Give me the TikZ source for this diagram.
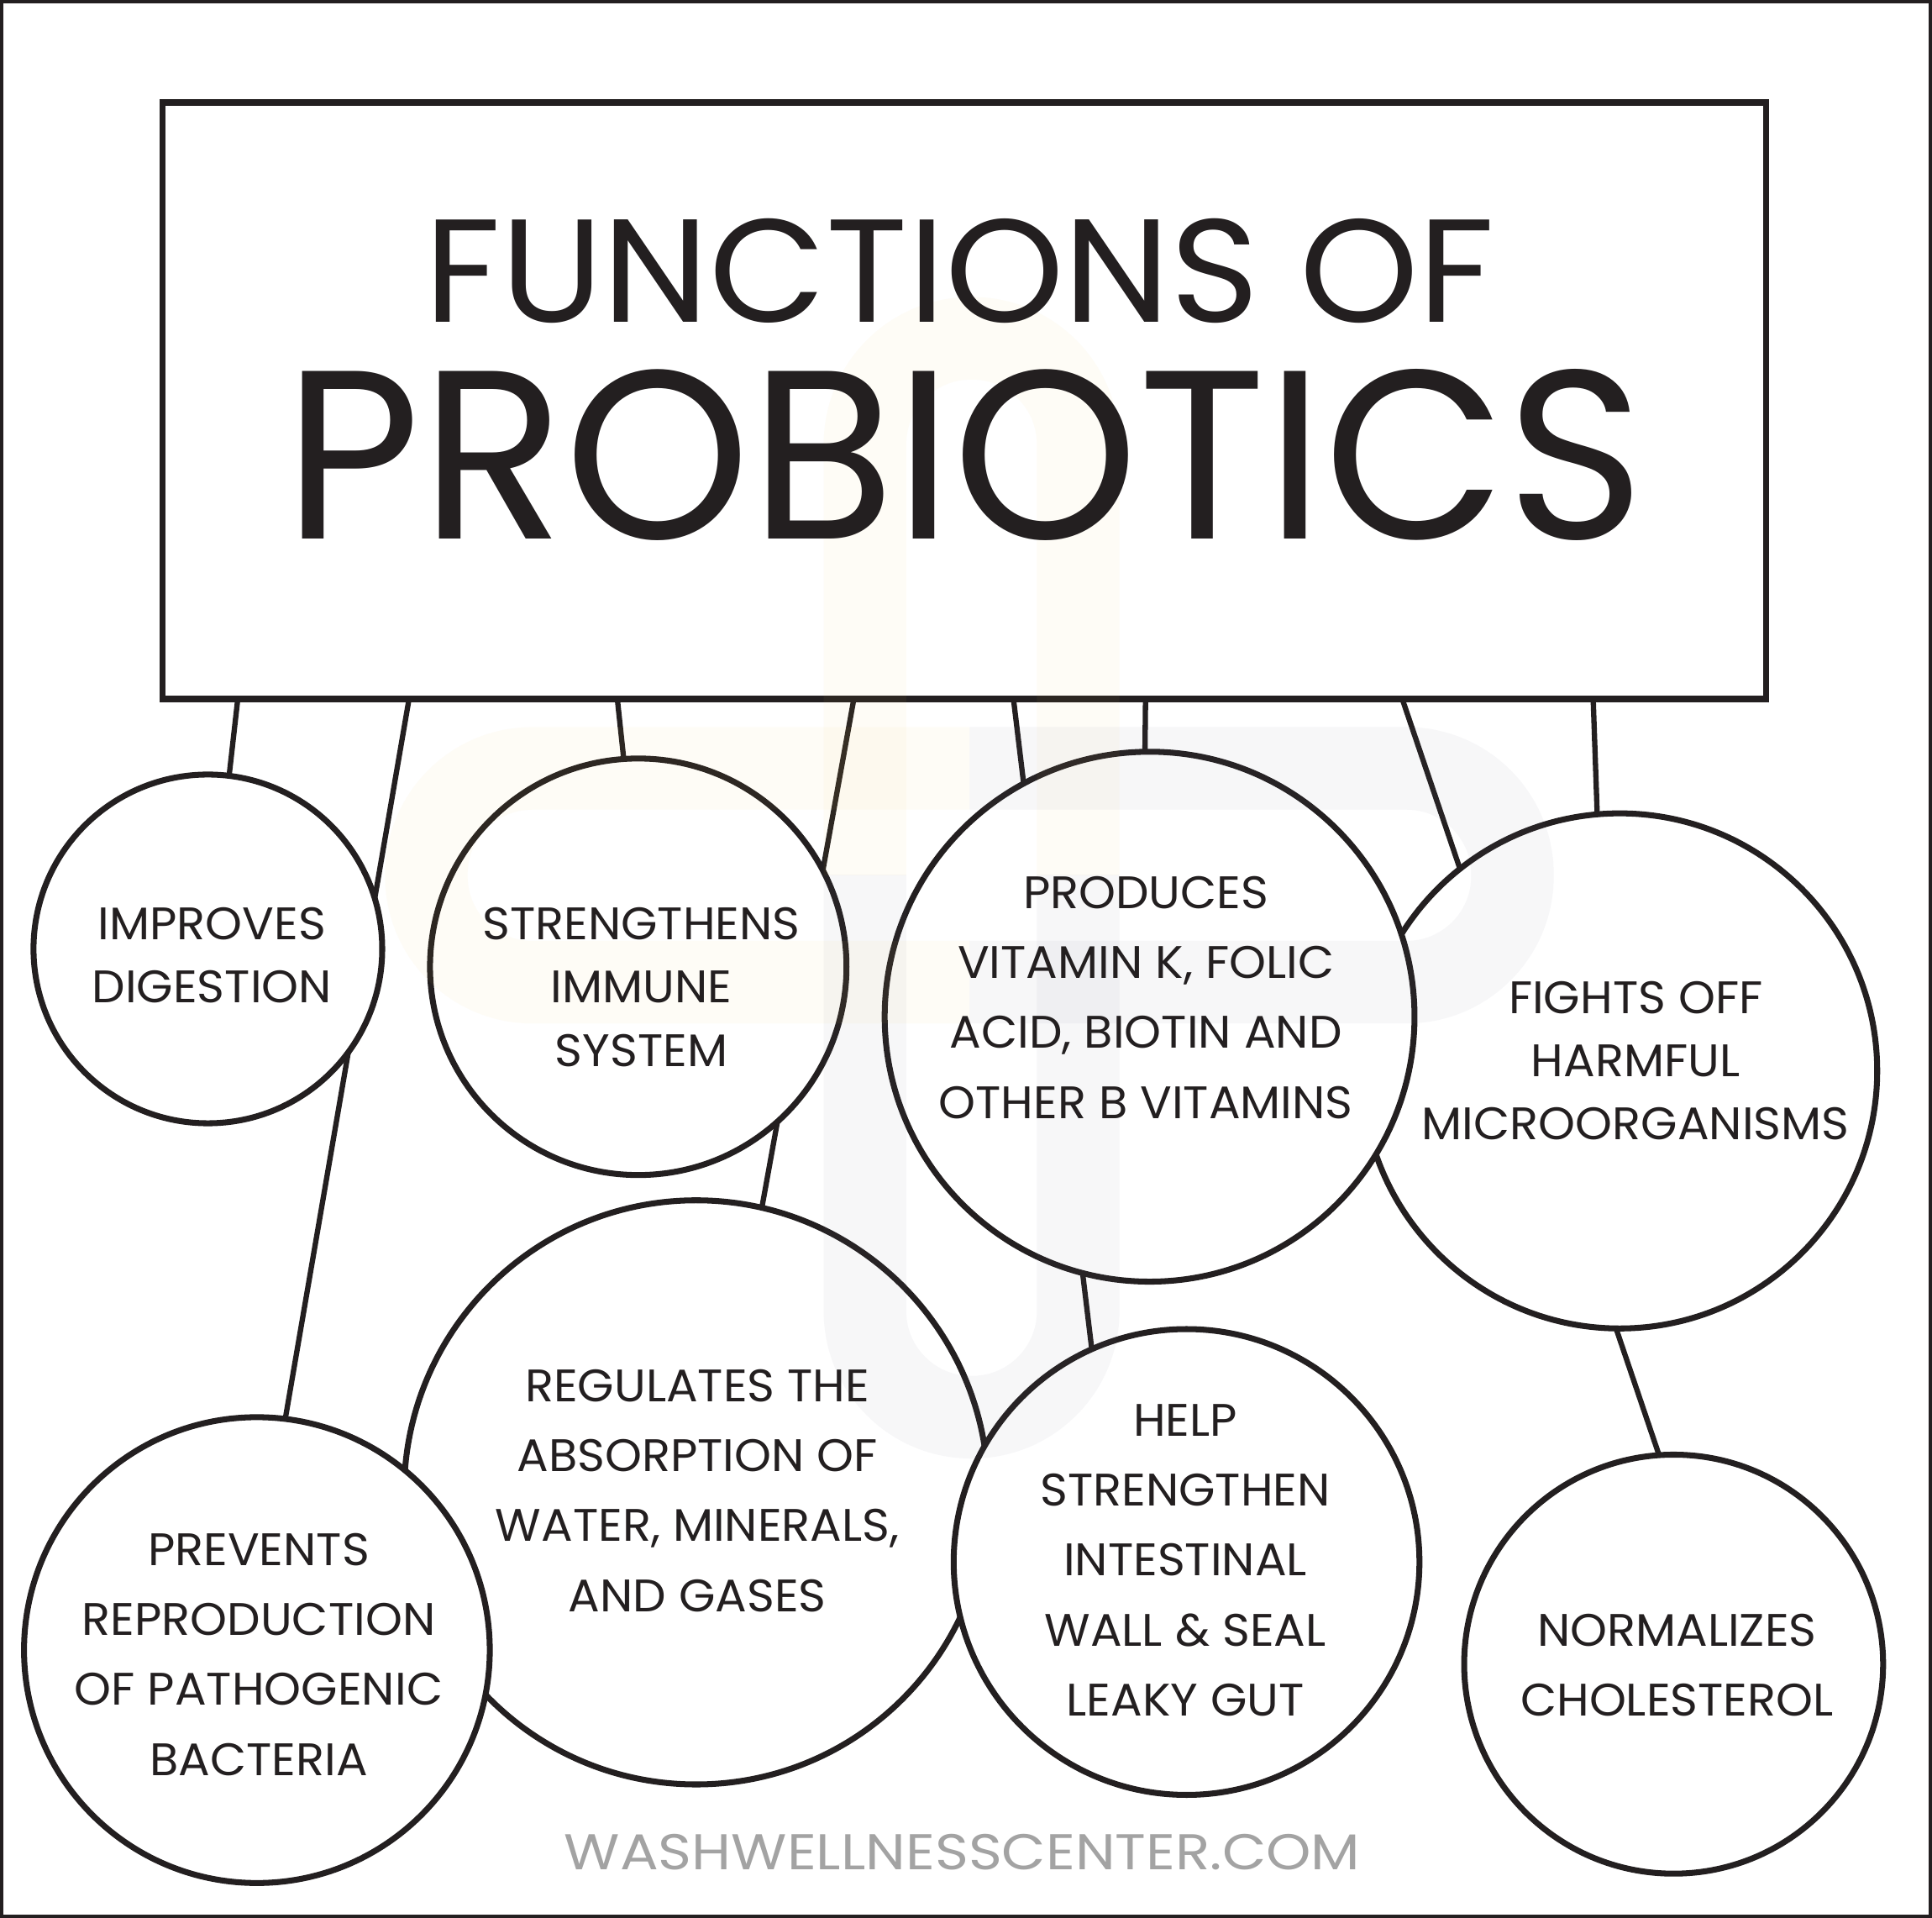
\documentclass[tikz,border=0pt]{standalone}
\usepackage{fontspec}
\setmainfont{Poppins}[FakeStretch=1.03]
\usetikzlibrary{calc}
\definecolor{ink}{RGB}{35,31,32}
\definecolor{foot}{RGB}{163,163,163}
\definecolor{wmy}{RGB}{245,200,90}
\definecolor{wmg}{RGB}{110,110,140}
\begin{document}
\begin{tikzpicture}[x=1pt,y=-1pt,
  bubble/.style={circle, draw=ink, line width=4.8pt, fill=white, inner sep=0pt, outer sep=0pt, minimum size=#1},
  link/.style={draw=ink, line width=4.3pt, shorten >=-10pt, shorten <=-10pt},
  txtsm/.style={text=ink, align=center, inner sep=0pt, font=\fontsize{37}{51.2}\selectfont},
  txtlg/.style={text=ink, align=center, inner sep=0pt, font=\fontsize{37}{56.8}\selectfont},
  wmark/.style={line width=67pt, opacity=#1},
]
\useasboundingbox (0,0) rectangle (1568,1556.4);
\fill[white] (0,0) rectangle (1568,1556.4);

% title box (drawn as node; coordinates on its lower edge)
\node[draw=ink, line width=5.2pt, fill=white, inner sep=0pt, outer sep=0pt,
      minimum width=1301.4pt, minimum height=484pt] (title) at (782.7,325) {};

\foreach \n/\dx in {t1/61, t2/200, t3/369, t4/561, t5/690.5, t6/797.7, t7/1006, t8/1161}
  \coordinate (\n) at ($(title.south west)+(\dx,0)$);

% circles (positions only, drawn later)
\path
  (168.7,770)   node[minimum size=283pt, circle, inner sep=0pt] (c1) {}
  (518,784.5)   node[minimum size=338pt, circle, inner sep=0pt] (c2) {}
  (933,825)     node[minimum size=430pt, circle, inner sep=0pt] (c3) {}
  (1314.5,869)  node[minimum size=418pt, circle, inner sep=0pt] (c4) {}
  (208.5,1339)  node[minimum size=378pt, circle, inner sep=0pt] (c5) {}
  (565,1211)    node[minimum size=474pt, circle, inner sep=0pt] (c6) {}
  (963,1267.5)  node[minimum size=378pt, circle, inner sep=0pt] (c7) {}
  (1358.3,1350.4) node[minimum size=340pt, circle, inner sep=0pt] (c8) {};

% connectors
\draw[link] (t1) -- (c1.83.1);
\draw[link] (t2) -- (c5.83.9);
\draw[link] (t3) -- (c2.94.7);
\draw[link] (t4) -- (c6.77.9);
\draw[link] (t5) -- (c7.114.95);
\draw[link] (t6) -- (c3.91.7);
\draw[link] (t7) -- (c8.94.7);
\draw[link] (t8) -- (c4.95.9);

% redraw title box on top of connector ends
\node[draw=ink, line width=5.2pt, fill=white, inner sep=0pt, outer sep=0pt,
      minimum width=1301.4pt, minimum height=484pt] (titlebox) at (title.center) {};

% circles in stacking order
\node[bubble=474pt] (b6) at (c6) {};
\node[bubble=418pt] (b4) at (c4) {};
\node[bubble=283pt] (b1) at (c1) {};
\node[bubble=338pt] (b2) at (c2) {};
\node[bubble=430pt] (b3) at (c3) {};
\node[bubble=378pt] (b5) at (c5) {};
\node[bubble=378pt] (b7) at (c7) {};
\node[bubble=340pt] (b8) at (c8) {};

% faint watermark (two capsules)
\begin{scope}
  \clip (0,0) rectangle (1568,710);
  \draw[wmark=0.05, draw=wmy, rounded corners=86pt] (702,274.5) rectangle (875,1150);
\end{scope}
\begin{scope}
  \clip (0,710) rectangle (1568,1556);
  \draw[wmark=0.055, draw=wmg, rounded corners=86pt] (702,274.5) rectangle (875,1150);
\end{scope}
\begin{scope}
  \clip (0,0) rectangle (787,1556);
  \draw[wmark=0.05, draw=wmy, rounded corners=86pt] (346,623.5) rectangle (1227.5,797);
\end{scope}
\begin{scope}
  \clip (787,0) rectangle (1568,1556);
  \draw[wmark=0.055, draw=wmg, rounded corners=86pt] (346,623.5) rectangle (1227.5,797);
\end{scope}

% title text
\node[anchor=base, inner sep=0pt, text=ink] (ttl1) at (779,261.3)
  {\resizebox{868pt}{84pt}{FUNCTIONS OF}};
\node[anchor=base, inner sep=0pt, text=ink] (ttl2) at (783,437.5)
  {\resizebox{1102pt}{137.5pt}{PROBIOTICS}};

% circle texts
\node[txtsm] (x1) at (172,775) {IMPROVES\\DIGESTION};
\node[txtsm] (x2) at (520.5,801) {STRENGTHENS\\IMMUNE\\SYSTEM};
\node[txtlg] (x3) at (930,809.3) {PRODUCES\\VITAMIN K, FOLIC\\ACID, BIOTIN AND\\OTHER B VITAMINS};
\node[txtsm] (x4) at (1327.5,860.7) {FIGHTS OFF\\HARMFUL\\MICROORGANISMS};
\node[txtlg] (x5) at (210,1342.5) {PREVENTS\\REPRODUCTION\\OF PATHOGENIC\\BACTERIA};
\node[txtlg] (x6) at (566,1209.5) {REGULATES THE\\ABSORPTION OF\\WATER, MINERALS,\\AND GASES};
\node[txtlg] (x7) at (962,1266) {HELP\\STRENGTHEN\\INTESTINAL\\WALL \& SEAL\\LEAKY GUT};
\node[txtlg] (x8) at (1361,1351) {NORMALIZES\\CHOLESTEROL};

% footer
\node[anchor=base, inner sep=0pt, text=foot] (footer) at (781,1517)
  {\resizebox{646pt}{28.8pt}{WASHWELLNESSCENTER.COM}};

% outer frame
\draw[ink, line width=2.8pt] (1.4,1.4) rectangle (1566.6,1555);
\end{tikzpicture}
\end{document}
